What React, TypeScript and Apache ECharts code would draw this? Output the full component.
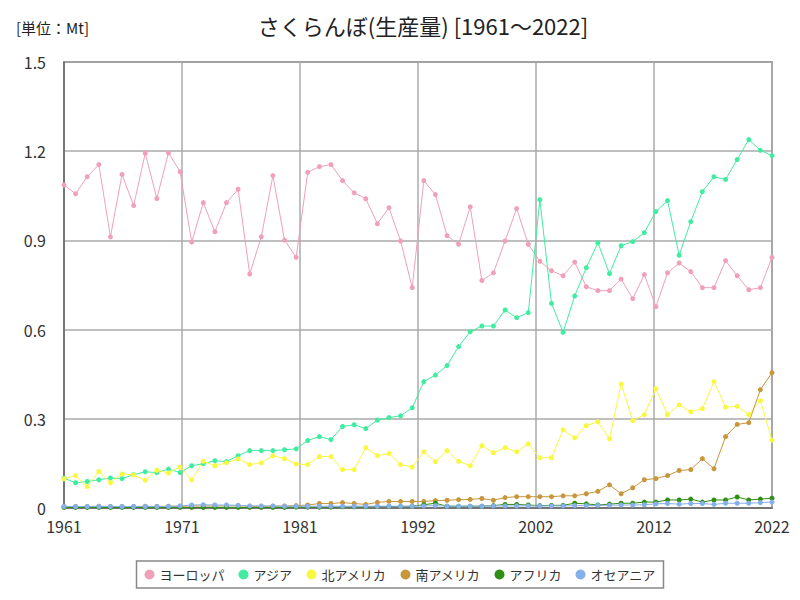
import React, { useEffect, useRef } from "react";
import * as echarts from "echarts";

const startYear = 1961;
const endYear = 2022;
const years: number[] = [];
for (let y = startYear; y <= endYear; y++) years.push(y);

const seriesNames = ["ヨーロッパ", "アジア", "北アメリカ", "南アメリカ", "アフリカ", "オセアニア"];
const seriesColors = ["#f0a0b8", "#40eca0", "#f8f840", "#c8963c", "#2e8f14", "#86b0ec"];

const europe = [
  1.086, 1.057, 1.114, 1.155, 0.912, 1.122, 1.017, 1.193, 1.041, 1.194,
  1.131, 0.894, 1.027, 0.929, 1.027, 1.072, 0.787, 0.912, 1.118, 0.901,
  0.843, 1.129, 1.148, 1.155, 1.101, 1.06, 1.04, 0.956, 1.01, 0.898,
  0.741, 1.101, 1.054, 0.916, 0.887, 1.013, 0.765, 0.791, 0.898, 1.007,
  0.887, 0.83, 0.798, 0.781, 0.827, 0.744, 0.731, 0.731, 0.77, 0.704,
  0.785, 0.677, 0.791, 0.824, 0.795, 0.741, 0.741, 0.832, 0.781, 0.734,
  0.741, 0.843,
];
const asia = [
  0.1, 0.085, 0.089, 0.095, 0.101, 0.099, 0.112, 0.122, 0.119, 0.131,
  0.119, 0.142, 0.149, 0.159, 0.156, 0.176, 0.193, 0.193, 0.193, 0.196,
  0.199, 0.227, 0.24, 0.23, 0.274, 0.28, 0.267, 0.296, 0.304, 0.31,
  0.337, 0.425, 0.447, 0.479, 0.543, 0.593, 0.612, 0.612, 0.666, 0.64,
  0.657, 1.037, 0.688, 0.591, 0.713, 0.808, 0.892, 0.788, 0.882, 0.896,
  0.926, 0.997, 1.034, 0.85, 0.963, 1.064, 1.114, 1.105, 1.172, 1.239,
  1.203, 1.185,
];
const northAmerica = [
  0.098, 0.109, 0.072, 0.123, 0.085, 0.115, 0.111, 0.093, 0.127, 0.118,
  0.138, 0.095, 0.157, 0.142, 0.152, 0.165, 0.146, 0.152, 0.176, 0.166,
  0.148, 0.146, 0.173, 0.173, 0.129, 0.129, 0.203, 0.176, 0.183, 0.146,
  0.138, 0.189, 0.156, 0.193, 0.157, 0.142, 0.21, 0.186, 0.203, 0.189,
  0.216, 0.169, 0.169, 0.263, 0.236, 0.277, 0.29, 0.233, 0.417, 0.294,
  0.314, 0.401, 0.314, 0.347, 0.324, 0.334, 0.425, 0.339, 0.342, 0.314,
  0.361, 0.228,
];
const southAmerica = [
  0.005, 0.005, 0.005, 0.006, 0.005, 0.005, 0.005, 0.006, 0.005, 0.006,
  0.006, 0.007, 0.007, 0.007, 0.007, 0.008, 0.006, 0.006, 0.006, 0.007,
  0.008, 0.01, 0.015, 0.015, 0.018, 0.015, 0.012, 0.019, 0.022, 0.022,
  0.022, 0.022, 0.025, 0.026, 0.028, 0.029, 0.032, 0.026, 0.035, 0.038,
  0.038, 0.038, 0.038, 0.041, 0.041, 0.048, 0.056, 0.078, 0.048, 0.068,
  0.095, 0.099, 0.109, 0.126, 0.129, 0.166, 0.132, 0.24, 0.281, 0.287,
  0.398, 0.455,
];
const africa = [
  0.002, 0.002, 0.002, 0.002, 0.002, 0.002, 0.002, 0.002, 0.002, 0.002,
  0.002, 0.002, 0.002, 0.002, 0.002, 0.002, 0.002, 0.002, 0.002, 0.002,
  0.003, 0.003, 0.003, 0.003, 0.004, 0.004, 0.004, 0.005, 0.005, 0.005,
  0.006, 0.011, 0.016, 0.006, 0.006, 0.006, 0.006, 0.008, 0.012, 0.012,
  0.01, 0.008, 0.009, 0.009, 0.016, 0.014, 0.01, 0.013, 0.016, 0.016,
  0.02, 0.02, 0.027, 0.027, 0.03, 0.02, 0.027, 0.027, 0.037, 0.027,
  0.03, 0.033,
];
const oceania = [
  0.005, 0.005, 0.005, 0.005, 0.005, 0.005, 0.005, 0.005, 0.005, 0.005,
  0.007, 0.01, 0.011, 0.01, 0.01, 0.009, 0.007, 0.007, 0.007, 0.006,
  0.006, 0.006, 0.006, 0.006, 0.006, 0.006, 0.006, 0.006, 0.006, 0.006,
  0.006, 0.007, 0.008, 0.006, 0.006, 0.006, 0.006, 0.007, 0.007, 0.007,
  0.007, 0.007, 0.007, 0.007, 0.008, 0.008, 0.009, 0.009, 0.01, 0.01,
  0.011, 0.014, 0.015, 0.013, 0.015, 0.015, 0.012, 0.016, 0.016, 0.016,
  0.018, 0.02,
];

const seriesValues = [europe, asia, northAmerica, southAmerica, africa, oceania];

const titleText = "さくらんぼ(生産量) [1961～2022]";
const unitText = "[単位：Mt]";
const FONT = "'Noto Sans CJK JP', 'Noto Sans', sans-serif";

export default function App() {
  const ref = useRef<HTMLDivElement>(null);
  useEffect(() => {
    if (!ref.current) return;
    const chart = echarts.init(ref.current, undefined, { renderer: "svg" });
    const span = endYear - startYear;
    chart.setOption({
      animation: false,
      backgroundColor: "#ffffff",
      textStyle: { fontFamily: FONT },
      title: {
        text: titleText,
        left: 418,
        top: 9,
        textAlign: "center",
        textStyle: { fontFamily: FONT, fontSize: 22, fontWeight: "normal", color: "#222" },
      },
      graphic: [
        {
          type: "text",
          left: 16,
          top: 20,
          style: { text: unitText, fontFamily: FONT, fontSize: 15, fill: "#222" },
        },
      ],
      grid: {
        left: 64,
        right: 28,
        top: 62,
        bottom: 92,
        show: true,
        borderColor: "#666",
        borderWidth: 1.5,
        containLabel: false,
      },
      legend: {
        bottom: 12,
        left: "center",
        icon: "circle",
        itemWidth: 10,
        itemHeight: 10,
        itemGap: 14,
        padding: [7, 8],
        borderColor: "#888",
        borderWidth: 1.5,
        textStyle: { fontFamily: FONT, fontSize: 13, color: "#333" },
        data: seriesNames,
      },
      xAxis: {
        type: "value",
        min: 0,
        max: span,
        interval: span / 6,
        axisLine: { show: true, lineStyle: { color: "#666", width: 1.5 } },
        axisTick: { show: false },
        splitLine: { show: true, lineStyle: { color: "#aaa", width: 1.5 } },
        axisLabel: {
          fontFamily: FONT,
          fontSize: 16,
          color: "#333",
          margin: 10,
          formatter: (v: number) => String(Math.round(v + startYear + 1e-6)),
        },
      },
      yAxis: {
        type: "value",
        min: 0,
        max: 1.5,
        interval: 0.3,
        axisLine: { show: true, lineStyle: { color: "#666", width: 1.5 } },
        axisTick: { show: false },
        splitLine: { show: true, lineStyle: { color: "#aaa", width: 1.5 } },
        axisLabel: { fontFamily: FONT, fontSize: 16, color: "#333", margin: 18 },
      },
      series: seriesNames.map((name, i) => ({
        name,
        type: "line",
        data: years.map((y, j) => [y - startYear, seriesValues[i][j]]),
        symbol: "circle",
        symbolSize: 5,
        lineStyle: { width: 1, color: seriesColors[i] },
        itemStyle: { color: seriesColors[i] },
        emphasis: { disabled: true },
      })),
    });
    return () => chart.dispose();
  }, []);
  return (
    <div
      ref={ref}
      style={{ position: "fixed", left: 0, top: 0, width: 800, height: 600 }}
    />
  );
}
